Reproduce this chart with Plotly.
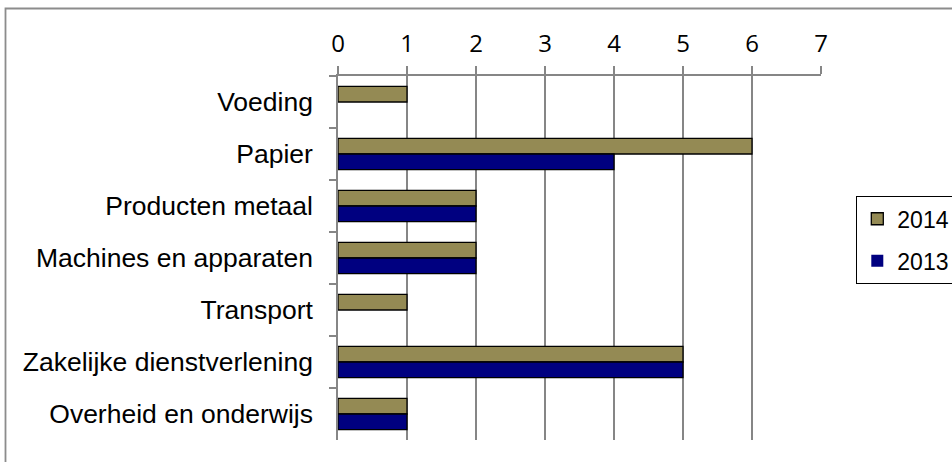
import plotly.graph_objects as go

categories = ["Voeding", "Papier", "Producten metaal", "Machines en apparaten",
              "Transport", "Zakelijke dienstverlening", "Overheid en onderwijs"]
values_2014 = [1, 6, 2, 2, 1, 5, 1]
values_2013 = [0, 4, 2, 2, 0, 5, 1]
x_ticks = [0, 1, 2, 3, 4, 5, 6, 7]

W, H = 952, 462
L, R, T, B = 338, 131, 76, 22
pw, ph = W - L - R, H - T - B


def outline(vals):
    return [0 if v == 0 else 1.3 for v in vals]


fig = go.Figure()
fig.add_trace(go.Bar(y=categories, x=values_2014, name="2014", orientation="h",
                     legendgroup="a",
                     marker=dict(color="#948A54",
                                 line=dict(color="#000000", width=outline(values_2014)))))
fig.add_trace(go.Bar(y=categories, x=values_2013, name="2013", orientation="h",
                     legendgroup="b",
                     marker=dict(color="#000080",
                                 line=dict(color="#000000", width=outline(values_2013)))))

def px(x):
    return (x - L) / pw

def py(y):
    return 1 - (y - T) / ph

fig.update_layout(
    width=W, height=H,
    margin=dict(l=L, r=R, t=T, b=B, autoexpand=False),
    paper_bgcolor="white", plot_bgcolor="white",
    barmode="group", bargap=0.4, bargroupgap=0,
    font=dict(family="Liberation Sans, Arial", size=26, color="#000000"),
    xaxis=dict(side="top", range=[0, 7], tickvals=x_ticks,
               tickfont=dict(family="Open Sans", size=24),
               showgrid=True, gridcolor="#868686", gridwidth=1.5,
               showline=True, linecolor="#868686", linewidth=1.5,
               ticks="outside", ticklen=8, tickcolor="#868686", tickwidth=1.5,
               ticklabelstandoff=5,
               zeroline=False, fixedrange=True),
    yaxis=dict(categoryorder="array", categoryarray=categories, autorange="reversed",
               showline=True, linecolor="#868686", linewidth=1.5,
               ticks="outside", ticklen=7, tickcolor="#868686", tickwidth=1.5,
               tickson="boundaries", showgrid=False, ticklabelstandoff=18,
               fixedrange=True,
               tickfont=dict(family="Liberation Sans, Arial", size=26.5)),
    legend=dict(x=px(856), y=py(196), xanchor="left", yanchor="top",
                bordercolor="#000000", borderwidth=1.3, bgcolor="white",
                font=dict(family="Liberation Sans, Arial", size=23),
                traceorder="grouped", tracegroupgap=9, itemwidth=30),
    showlegend=True,
    shapes=[dict(type="rect", xref="paper", yref="paper",
                 x0=px(5.5), x1=px(1000), y0=py(500), y1=py(8.5),
                 line=dict(color="#8C8C8C", width=1.8), layer="below")],
)

fig.write_html("out.html", config={"displayModeBar": False},
               post_script="document.body.style.margin='0';document.body.style.padding='0';")
